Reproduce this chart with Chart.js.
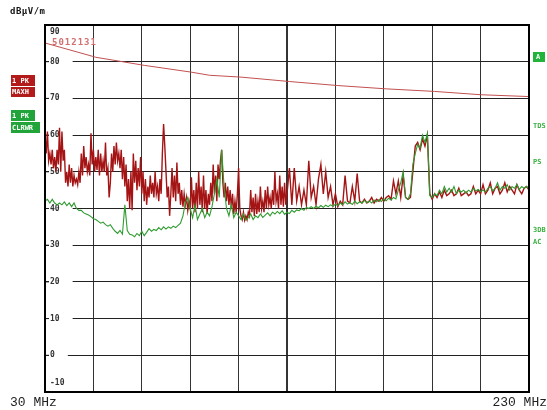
<!DOCTYPE html>
<html>
<head>
<meta charset="utf-8">
<script src="https://cdn.jsdelivr.net/npm/chart.js@4/dist/chart.umd.min.js"></script>
<style>
  html, body { margin: 0; padding: 0; background: #fff; }
  #wrap { position: relative; width: 547px; height: 410px; }
</style>
</head>
<body>
<div id="wrap"><canvas id="chart" width="547" height="410"></canvas></div>
<script>
// frequency points in MHz for the clear-write trace
const freqs = [30,31,32,33,34,35,36,37,38,39,40,41,42,43,44,45,46,47,48,49,
  50,51,52,53,54,55,56,57,58,59,60,61,62,63,64,65,66,67,68,69,
  70,71,72,73,74,75,76,77,78,79,80,81,82,83,84,85,86,87,88,89,
  90,91,92,93,94,95,96,97,98,99,100,101,102,103,104,105,106,107,108,109,
  110,111,112,113,114,115,116,117,118,119,120,121,122,123,124,125,126,127,128,129,
  130,131,132,133,134,135,136,137,138,139,140,141,142,143,144,145,146,147,148,149,
  150,151,152,153,154,155,156,157,158,159,160,161,162,163,164,165,166,167,168,169,
  170,171,172,173,174,175,176,177,178,179,180,181,182,183,184,185,186,187,188,189,
  190,191,192,193,194,195,196,197,198,199,200,201,202,203,204,205,206,207,208,209,
  210,211,212,213,214,215,216,217,218,219,220,221,222,223,224,225,226,227,228,229,230];

// frequency points in MHz for the max-hold trace (finer below 130 MHz)
const maxHoldFreqs = [30,
  30.5,31,31.5,32,32.5,33,33.5,34,34.5,35,35.5,36,36.5,37,37.5,38,38.5,39,39.5,40,
  40.5,41,41.5,42,42.5,43,43.5,44,44.5,45,45.5,46,46.5,47,47.5,48,48.5,49,49.5,50,
  50.5,51,51.5,52,52.5,53,53.5,54,54.5,55,55.5,56,56.5,57,57.5,58,58.5,59,59.5,60,
  60.5,61,61.5,62,62.5,63,63.5,64,64.5,65,65.5,66,66.5,67,67.5,68,68.5,69,69.5,70,
  70.5,71,71.5,72,72.5,73,73.5,74,74.5,75,75.5,76,76.5,77,77.5,78,78.5,79,79.5,80,
  80.5,81,81.5,82,82.5,83,83.5,84,84.5,85,85.5,86,86.5,87,87.5,88,88.5,89,89.5,90,
  90.5,91,91.5,92,92.5,93,93.5,94,94.5,95,95.5,96,96.5,97,97.5,98,98.5,99,99.5,100,
  100.5,101,101.5,102,102.5,103,103.5,104,104.5,105,105.5,106,106.5,107,107.5,108,108.5,109,109.5,110,
  110.5,111,111.5,112,112.5,113,113.5,114,114.5,115,115.5,116,116.5,117,117.5,118,118.5,119,119.5,120,
  120.5,121,121.5,122,122.5,123,123.5,124,124.5,125,125.5,126,126.5,127,127.5,128,128.5,129,129.5,130,
  131,132,133,134,135,136,137,138,139,140,141,142,143,144,145,146,147,148,149,150,
  151,152,153,154,155,156,157,158,159,160,161,162,163,164,165,166,167,168,169,170,
  171,172,173,174,175,176,177,178,179,180,181,182,183,184,185,186,187,188,189,190,
  191,192,193,194,195,196,197,198,199,200,201,202,203,204,205,206,207,208,209,210,
  211,212,213,214,215,216,217,218,219,220,221,222,223,224,225,226,227,228,229,230];

// trace 1: peak, max hold (dBµV/m)
const maxHold = [60,
  55,61,53,55,52,56,51,54,50,56,52,62,50,61,53,56,47,50,46,52,
  47,51,46,49,47,48,46.5,50,47,55,49,57,51,54,50,52,49,60.5,52,56,
  50,54,50.5,56,49,55,50,53,50,58,49,51,43,47,55,50,57,52,58,53,
  55,51,56,48,54,46,52,42,48,40,50,39.5,55,47,53,45,51,46,54,44,
  50,42,48,41,46,43,49,44,47,43,50,44,46,42,48,44,55,63,57,50,
  43,46,38,44,51,43,49,42,52.5,44,47,41,45,40.5,44,41,43,39.5,42,40,
  48.5,40,45,39,47,40,50,41,46,39,49,40,45,38.5,44,41,47,42,52,44,
  49,42,52,48,53,56,47,43,47,42,46,41,45,40,44,38.5,42,39,44,51,
  40,38,37,39,36.8,38,37,39,38,45,39,43,38,44,38.5,42,39,46,40,42,
  39,45,40,46,41,43,40,45,41,50,42,44,40,49,41,46,40.5,47,41,44,
  51,41,51,42,46,41,45,41,53,43,46,41,48,52,44,50,43,46,41,44,
  40.5,42,41,49,42,41.5,46,42,49.5,42,41.5,42.5,41.5,42,43,41.5,42.5,42,43,42,
  43,43.5,42.5,47.5,44,47.5,43,49,43,42.5,43,50,57,58,56,59,57,60,44,42.5,
  44,43,44.5,43,45,43.5,44,45,43.5,44,45.5,43.5,44,44.5,43.5,44,46,44,45,44,
  46.5,44,45,47,44,45.5,46,44,45,47,44.5,46,45,44,46.5,45,44,45.5,46,45];

// trace 2: peak, clear write (dBµV/m)
const clearWrite = [42,42.5,41.5,42.5,41.5,41,41.5,41,41.8,40.8,41.5,40.5,41.5,40,39.5,39.5,38.8,38.5,38.2,37.8,
  37.2,37,36.5,36,36.3,35.6,35.2,35.6,34.6,33.8,33.2,34,33,41,34,33,32.8,32.3,33.2,32.6,
  33.8,32.6,33.5,34.5,33.8,34.3,34,34.8,34.2,35,34.4,35,34.6,35.2,34.8,35.4,36,38,41.5,43,
  40,37.5,41,37,38.5,40,37.5,39,38,40.5,44,48,43,56,46,40,38,41,37.5,39,
  38,37,38.5,36.8,37.5,38.5,37,38,37.5,38.5,37.6,38.2,38.8,38,39,38.5,39.2,38.6,39.4,38.4,
  39,38.6,39.5,39,39.6,39.4,40,39.5,40.3,40,40.5,40,40.6,40.2,40.8,40.3,40.9,40.5,41,40.6,
  41.2,40.8,41.5,41,41.8,41.2,41.6,41.1,42,41.3,41.8,41.5,42.2,41.6,42,41.5,42.3,41.8,42.4,41.9,
  42.6,42.1,42.8,42.3,43,42.6,45,47,50,43,42.5,44,52,55,57.5,56.5,60,58,60.5,43.5,
  43,44,43.5,45,44,46,44.5,45.5,44.5,46,44,45,44.5,45,44.2,45,44.5,45.5,44.8,45.2,
  44.6,45,44.5,45.5,46,44.8,45.5,47,45,46,45.5,46.5,45,46,45.5,46.5,45.2,46,45.5,46,45.5];

// limit line 5012131
const limitFreqs = [30,50,51,62,71,90,98,111,131,151,171,191,210,230];
const limitVals = [85.1,81.4,81.2,80.0,79.0,77.2,76.3,75.8,74.6,73.5,72.6,71.9,71.0,70.5];

const yTickLabels = [90,80,70,60,50,40,30,20,10,0,-10];

const toPoints = (xs, ys) => xs.map((x, i) => ({ x: x, y: ys[i] }));

const mono = '"DejaVu Sans Mono", "Liberation Mono", monospace';
const courier = '"Liberation Mono", "DejaVu Sans Mono", monospace';

const decorations = {
  id: 'decorations',
  beforeDatasetsDraw(chart) {
    const { ctx, chartArea: a, scales } = chart;
    ctx.save();
    ctx.font = 'bold 8px ' + mono;
    ctx.textBaseline = 'middle';
    yTickLabels.forEach(v => {
      let y = scales.y.getPixelForValue(v);
      let ty = y;
      if (v === 90) ty = y + 7;
      if (v === -10) ty = y - 9;
      const txt = String(v);
      const w = ctx.measureText(txt).width;
      if (v !== 90 && v !== -10) {
        ctx.fillStyle = '#fff';
        ctx.fillRect(a.left + 4, y - 4, w + 14, 8);
        ctx.strokeStyle = '#222';
        ctx.lineWidth = 1;
        ctx.beginPath();
        ctx.moveTo(a.left, y);
        ctx.lineTo(a.left + 4, y);
        ctx.stroke();
      }
      ctx.fillStyle = '#333';
      ctx.fillText(txt, a.left + 5, ty);
    });
    // limit line name
    ctx.fillStyle = '#d07070';
    ctx.font = 'bold 9px ' + mono;
    ctx.letterSpacing = '1px';
    ctx.fillText('5012131', a.left + 7, 43);
    ctx.letterSpacing = '0px';
    ctx.restore();
  },
  afterDraw(chart) {
    const { ctx, chartArea: a } = chart;
    ctx.save();
    ctx.strokeStyle = '#000';
    ctx.lineWidth = 2;
    ctx.strokeRect(a.left, a.top, a.right - a.left, a.bottom - a.top);

    ctx.textBaseline = 'middle';
    ctx.fillStyle = '#111';
    ctx.font = 'bold 9px ' + mono;
    ctx.letterSpacing = '0.5px';
    ctx.fillText('dBµV/m', 10, 12);
    ctx.letterSpacing = '0px';

    ctx.font = '13px ' + courier;
    ctx.fillStyle = '#222';
    ctx.fillText('30 MHz', 10, 403);
    ctx.textAlign = 'right';
    ctx.fillText('230 MHz', 547, 403);
    ctx.textAlign = 'left';

    // trace boxes on the left
    ctx.font = 'bold 7px ' + mono;
    ctx.fillStyle = '#b31b1b';
    ctx.fillRect(11, 75, 24, 11);
    ctx.fillRect(11, 87, 24, 10);
    ctx.fillStyle = '#21a53a';
    ctx.fillRect(11, 110, 24, 11);
    ctx.fillRect(11, 122, 29, 11);
    ctx.fillStyle = '#fff';
    ctx.fillText('1 PK', 12, 81);
    ctx.fillText('MAXH', 12, 92);
    ctx.fillText('1 PK', 12, 116);
    ctx.fillText('CLRWR', 12, 128);

    // right side markers
    ctx.fillStyle = '#21b33a';
    ctx.fillRect(533, 52, 12, 10);
    ctx.fillStyle = '#fff';
    ctx.fillText('A', 536, 57);
    ctx.fillStyle = '#3cb043';
    ctx.fillText('TDS', 533, 126);
    ctx.fillText('PS', 533, 162);
    ctx.fillText('3DB', 533, 230);
    ctx.fillText('AC', 533, 242);
    ctx.restore();
  }
};

const ctx = document.getElementById('chart').getContext('2d');
new Chart(ctx, {
  type: 'line',
  data: {
    datasets: [
      {
        label: '1 PK CLRWR',
        data: toPoints(freqs, clearWrite),
        borderColor: '#2e9b2e',
        borderWidth: 1.1,
        pointRadius: 0,
        tension: 0,
        order: 0,
      },
      {
        label: '1 PK MAXH',
        data: toPoints(maxHoldFreqs, maxHold),
        borderColor: '#a51414',
        borderWidth: 1.4,
        pointRadius: 0,
        tension: 0,
        order: 1,
      },
      {
        label: '5012131',
        data: toPoints(limitFreqs, limitVals),
        borderColor: '#c25050',
        borderWidth: 1,
        pointRadius: 0,
        tension: 0,
        order: 2,
      },
    ],
  },
  options: {
    responsive: false,
    animation: false,
    layout: {
      padding: { left: 45, right: 18, top: 25, bottom: 18 },
    },
    plugins: {
      legend: { display: false },
      tooltip: { enabled: false },
    },
    scales: {
      x: {
        type: 'linear',
        min: 30,
        max: 230,
        ticks: { display: false, stepSize: 20 },
        grid: {
          drawTicks: false,
          color: '#333',
          lineWidth: c => (c.tick && c.tick.value === 130 ? 2 : 1),
        },
        border: { display: false },
      },
      y: {
        type: 'linear',
        min: -10,
        max: 90,
        ticks: { display: false, stepSize: 10 },
        grid: {
          drawTicks: false,
          color: '#222',
          lineWidth: 1,
        },
        border: { display: false },
      },
    },
  },
  plugins: [decorations],
});
</script>
</body>
</html>
